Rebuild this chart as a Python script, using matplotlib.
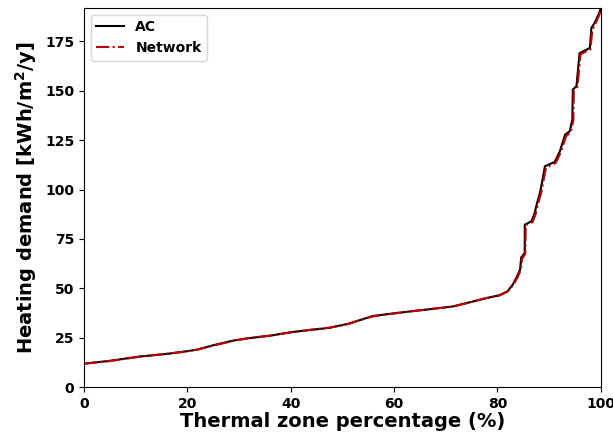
import numpy as np
import matplotlib.pyplot as plt

# ==========================================
# DATA
# ==========================================
ac_pct = [0, 5, 10.8, 16, 20, 22, 25, 29, 32, 36, 40, 44, 47.5, 51.3, 53.5,
          55.9, 60.4, 65.5, 71.3, 75.2, 77.8, 80.4, 82, 83, 83.8, 84.4, 84.6,
          85.3, 85.3, 86.6, 87.2, 87.6, 88.3, 88.8, 89.2, 91.1, 92.1, 92.4,
          93.1, 94.0, 94.5, 94.6, 95.3, 95.9, 97.9, 98.2, 98.8, 99.8, 100]
ac_val = [11.9, 13.3, 15.5, 16.8, 18.2, 19.0, 21.2, 23.6, 24.8, 26, 27.8, 29,
          30, 32.2, 34, 36, 37.5, 39, 40.8, 43.3, 45, 46.5, 48.6, 52, 56, 59.5,
          65.6, 68, 82.2, 84, 88, 92.4, 99, 106, 111.8, 114, 119.4, 122, 127.8,
          129.5, 135.4, 150.6, 152.3, 169, 171.7, 181.8, 184.3, 190, 192]

net_pct = [0, 5, 10.8, 16, 20, 22, 25, 29, 32, 36, 40, 44, 47.5, 51.3, 53.5,
           55.9, 60.4, 65.5, 71.3, 75.2, 77.8, 80.4, 82, 83, 83.9, 84.5, 84.8,
           85.4, 85.5, 86.8, 87.4, 87.8, 88.5, 89.0, 89.4, 91.3, 92.3, 92.6,
           93.3, 94.2, 94.7, 94.8, 95.5, 96.1, 98.0, 98.4, 99.0, 99.9, 100]
net_val = [11.8, 13.2, 15.4, 16.9, 18.1, 19.1, 21.0, 23.5, 24.9, 26.1, 27.7,
           29.1, 30.1, 32.0, 34.1, 35.8, 37.4, 39.1, 40.7, 43.2, 45.1, 46.4,
           48.4, 51.5, 55.5, 59, 65, 67.5, 82, 83.5, 87.5, 92, 98.5, 105.5, 111,
           113.5, 119, 121.5, 127, 129, 135, 150, 152, 168.5, 171, 181, 184,
           189.5, 192]

# ==========================================
# PLOTTING
# ==========================================
plt.rcParams['font.weight'] = 'bold'

fig = plt.figure(figsize=(6.13, 4.34), dpi=100)
ax = fig.add_axes([0.137, 0.108, 0.843, 0.874])

ax.plot(ac_pct, ac_val, color='black', linestyle='-', linewidth=1.5, label='AC')
ax.plot(net_pct, net_val, color='#c00000', linestyle='-.', linewidth=1.5, label='Network')

ax.set_xlim(0, 100)
ax.set_ylim(0, 192)
ax.set_yticks([0, 25, 50, 75, 100, 125, 150, 175])
ax.tick_params(labelsize=10)
for lbl in ax.get_xticklabels() + ax.get_yticklabels():
    lbl.set_fontweight('bold')

ax.set_xlabel('Thermal zone percentage (%)', fontsize=14, fontweight='bold', labelpad=1)
ax.set_ylabel('Heating demand [kWh/m$^\\mathbf{2}$/y]', fontsize=14, fontweight='bold')

leg = ax.legend(loc='upper left', prop={'weight': 'bold', 'size': 10})

fig.savefig('out.png', dpi=100)
